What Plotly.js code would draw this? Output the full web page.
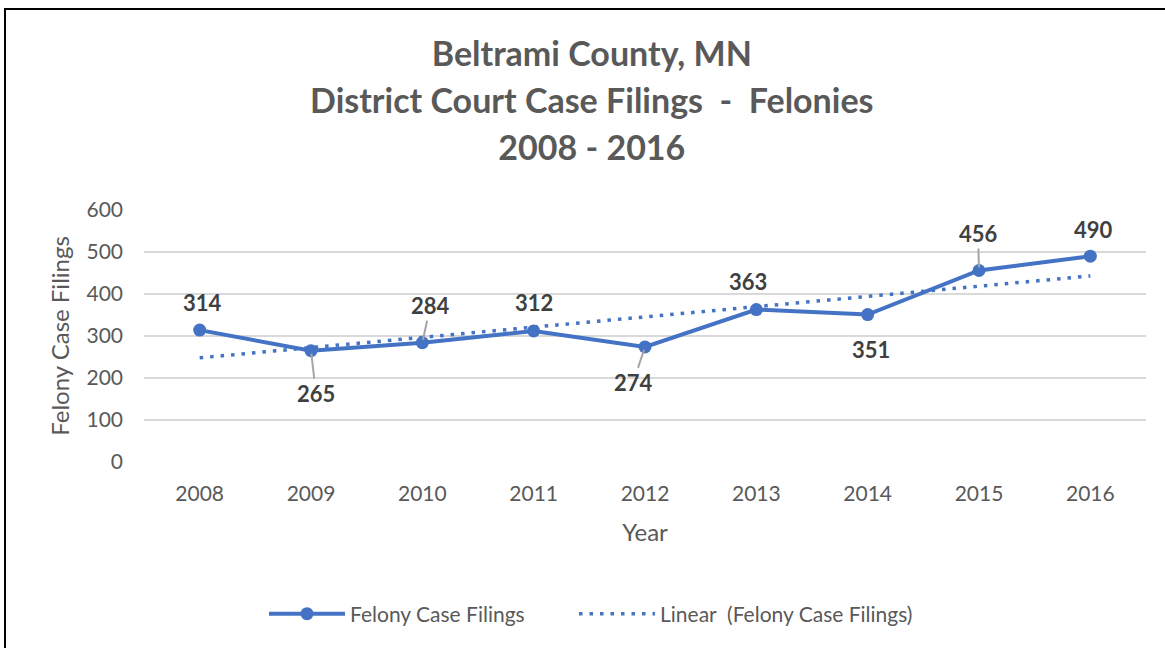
<!DOCTYPE html>
<html>
<head>
<meta charset="utf-8">
<script src="https://cdn.plot.ly/plotly-3.0.1.min.js"></script>
<style>
  html, body { margin: 0; padding: 0; background: #fff; }
  #chart { width: 1165px; height: 648px; position: absolute; left: 0; top: 0; }
  #frame { position: absolute; left: 4px; top: 8px; width: 1200px; height: 700px;
           border-left: 2px solid #000; border-top: 2px solid #000; pointer-events: none; }
</style>
</head>
<body>
<div id="chart"></div>
<div id="frame"></div>
<script>
// ---- data ----
const years = ['2008','2009','2010','2011','2012','2013','2014','2015','2016'];
const filings = [314, 265, 284, 312, 274, 363, 351, 456, 490];
const trendYears = ['2008', '2016'];
const trendValues = [248, 443];
const yTicks = [0, 100, 200, 300, 400, 500, 600];

// ---- label placement (style only) ----
const labelOffsets = [
  {dx: 3,  dy: -28, lead: false},
  {dx: 5,  dy: 43,  lead: true},
  {dx: 8,  dy: -37, lead: true},
  {dx: 0,  dy: -28, lead: false},
  {dx: -12,dy: 36,  lead: true},
  {dx: -8, dy: -28, lead: false},
  {dx: 3,  dy: 35,  lead: false},
  {dx: -1, dy: -37, lead: true},
  {dx: 3,  dy: -27, lead: false}
];

const FONT = 'Lato, "Open Sans", sans-serif';
const BLUE = '#4472C4';
const GREY = '#595959';

const traces = [
  {
    x: years, y: filings, type: 'scatter', mode: 'lines+markers',
    name: 'Felony Case Filings',
    line: {color: BLUE, width: 4},
    marker: {color: BLUE, size: 13, symbol: 'circle'},
    legendwidth: 219
  },
  {
    x: trendYears, y: trendValues, type: 'scatter', mode: 'lines',
    name: 'Linear \u00a0(Felony Case Filings)',
    line: {color: BLUE, width: 3.5, dash: '3.5px,7px'}
  }
];

// annotation x uses the category index (strings like '2008' would be read as an index)
const annotations = years.map((yr, i) => {
  const o = labelOffsets[i];
  const base = {
    x: i, y: filings[i], xref: 'x', yref: 'y',
    text: '<b>' + filings[i] + '</b>',
    font: {family: FONT, size: 22, color: '#404040'}
  };
  if (o.lead) {
    return Object.assign(base, {
      showarrow: true, arrowhead: 0, arrowwidth: 2, arrowcolor: '#A5A5A5',
      ax: o.dx, ay: o.dy, standoff: 3
    });
  }
  return Object.assign(base, {showarrow: false, xshift: o.dx, yshift: -o.dy});
});

const layout = {
  width: 1165, height: 648,
  paper_bgcolor: '#fff', plot_bgcolor: '#fff',
  margin: {l: 144, r: 19, t: 210, b: 186},
  font: {family: FONT, color: GREY},
  title: {
    text: '<span style="font-size:34px"><b>Beltrami County, MN</b></span><br>' +
          '<span style="font-size:34px"><b>District Court Case Filings  -  Felonies</b></span><br>' +
          '<span style="font-size:34px"><b>2008 - 2016</b></span>',
    font: {family: FONT, size: 36, color: GREY},
    xref: 'container', x: 0.508, xanchor: 'center',
    yref: 'container', y: 1 - 66/648, yanchor: 'top'
  },
  xaxis: {
    type: 'category', range: [-0.5, 8.5],
    showgrid: false, showline: false, zeroline: false,
    ticks: '', ticklabelstandoff: 17,
    tickfont: {family: FONT, size: 21, color: GREY},
    title: {text: 'Year', font: {family: FONT, size: 24, color: GREY}, standoff: 20}
  },
  yaxis: {
    range: [0, 600], tickvals: yTicks, ticktext: yTicks.map(String),
    showgrid: true, gridcolor: '#D9D9D9', gridwidth: 1.5,
    zeroline: false, showline: false, ticks: '', ticklabelstandoff: 20,
    tickfont: {family: FONT, size: 21, color: GREY},
    title: {text: 'Felony Case Filings', font: {family: FONT, size: 24, color: GREY}, standoff: 10}
  },
  showlegend: true,
  legend: {
    orientation: 'h', xref: 'container', yref: 'container',
    x: 264/1165, xanchor: 'left', y: 1 - 614/648, yanchor: 'middle',
    font: {family: FONT, size: 21, color: GREY},
    itemwidth: 76, tracegroupgap: 0
  },
  annotations: annotations
};

Plotly.newPlot('chart', traces, layout, {displayModeBar: false, staticPlot: true});
</script>
</body>
</html>
